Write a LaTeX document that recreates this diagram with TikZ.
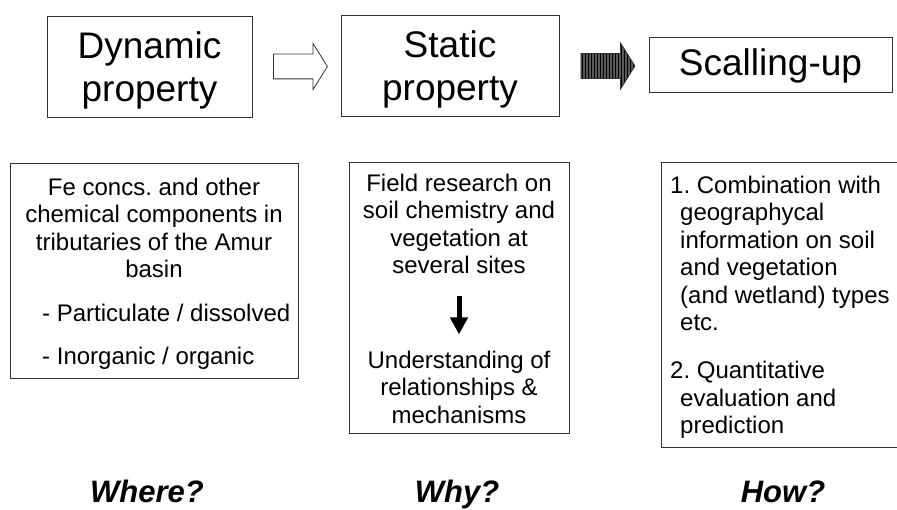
\documentclass[tikz,border=0pt]{standalone}
\usepackage{fontspec}
\setmainfont{Liberation Sans}
\usetikzlibrary{positioning,calc,shapes.arrows,arrows.meta,patterns}
\frenchspacing

\begin{document}
\begin{tikzpicture}[x=1pt,y=-1pt]
\tikzstyle{every node}+=[inner sep=0pt]
\tikzstyle{headbox}=[draw=black!80,line width=0.9pt]
\tikzstyle{headtext}=[align=center,font=\fontsize{37}{43}\selectfont]
\tikzstyle{bodybox}=[draw=black!80,line width=0.9pt]
\tikzstyle{bodytext}=[font=\fontsize{24}{27.5}\selectfont]
\tikzstyle{question}=[font=\fontsize{31}{36}\selectfont\bfseries\itshape,anchor=base]
\tikzstyle{blockarrow}=[single arrow,draw=black!80,line width=0.8pt,minimum height=54pt,inner xsep=0pt,inner ysep=12pt,single arrow head extend=10.5pt,single arrow tip angle=116,anchor=tail]
\tikzstyle{downarrow}=[line width=5pt,-{Triangle[width=17pt,length=17pt]}]
\useasboundingbox (0,0) rectangle (897,510);
\node [headbox,minimum width=205pt,minimum height=101pt] (dyn) at (149.5,66.5) {};
\node [headtext] (dyntext) at ($(dyn)+(0,4)$) {Dynamic\\property};
\node [headbox,minimum width=218pt,minimum height=101pt] (stat) at (450,65.5) {};
\node [headtext] (stattext) at ($(stat)+(0,4)$) {Static\\property};
\node [headbox,minimum width=243pt,minimum height=55pt] (scale) at (770.5,64.5) {};
\node [headtext] (scaletext) at ($(scale)+(0,1)$) {Scalling-up};
\node [blockarrow] (hollow) at (273,66.5) {};
\node [blockarrow,preaction={fill=black!65},pattern=vertical lines,pattern color=black] (solid) at (580.5,66) {};
\node [bodybox,minimum width=288pt,minimum height=215pt] (where) at (154,270.5) {};
\node [bodybox,minimum width=220pt,minimum height=271pt] (why) at (459,297.5) {};
\node [bodybox,minimum width=240pt,minimum height=285pt] (how) at (781,304.5) {};
\node [bodytext,align=center] (fetext) at (154,228) {Fe concs. and other\\chemical components in\\tributaries of the Amur\\basin};
\node [bodytext,align=left,anchor=west,font=\fontsize{24}{43}\selectfont] (fetypes) at (42,336.5) {- Particulate / dissolved\\- Inorganic / organic};
\node [bodytext,align=center] (field) at (459,224) {Field research on\\soil chemistry and\\vegetation at\\several sites};
\node [bodytext,align=center] (under) at (459,387) {Understanding of\\relationships \&\\mechanisms};
\draw [downarrow,shorten <=22pt,shorten >=16pt] (field) -- (under);
\node [bodytext,align=left,anchor=west] (comb) at (670,253.5) {1. Combination with\\\hspace*{10pt}geographycal\\\hspace*{10pt}information on soil\\\hspace*{10pt}and vegetation\\\hspace*{10pt}(and wetland) types\\\hspace*{10pt}etc.};
\node [bodytext,align=left,anchor=west] (quant) at (670,400) {2. Quantitative\\\hspace*{10pt}evaluation and\\\hspace*{10pt}prediction};
\node [question] (qwhere) at (147,502) {Where?};
\node [question] (qwhy) at (457,502) {Why?};
\node [question] (qhow) at (783,502) {How?};
\end{tikzpicture}
\end{document}
